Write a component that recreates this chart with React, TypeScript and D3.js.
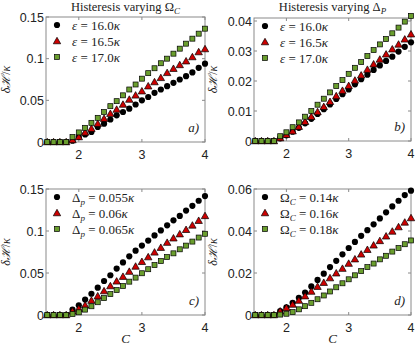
import React from "react";
import * as d3 from "d3";

const cValues = [1.5,1.6,1.7,1.8,1.9,2.0,2.1,2.2,2.3,2.4,2.5,2.6,2.7,2.8,2.9,3.0,3.1,3.2,3.3,3.4,3.5,3.6,3.7,3.8,3.9,4.0];

const aSeries1 = [0,0,0,0,0.0016,0.006,0.009,0.012,0.018,0.022,0.027,0.032,0.036,0.040,0.045,0.050,0.054,0.059,0.063,0.067,0.071,0.075,0.079,0.0835,0.089,0.094];
const aSeries2 = [0,0,0,0,0.0024,0.006,0.0115,0.016,0.022,0.028,0.034,0.039,0.045,0.051,0.056,0.061,0.067,0.072,0.077,0.083,0.088,0.0925,0.097,0.102,0.108,0.1116];
const aSeries3 = [0,0,0,0,0.006,0.0115,0.017,0.023,0.029,0.036,0.043,0.049,0.056,0.063,0.069,0.076,0.0826,0.0885,0.0945,0.100,0.106,0.112,0.118,0.124,0.130,0.136];

const bSeries1 = [0,0,0,0,0.0009,0.0019,0.0031,0.0044,0.0059,0.0074,0.009,0.0106,0.0122,0.014,0.0156,0.0172,0.0189,0.0206,0.0221,0.0237,0.0252,0.0267,0.0281,0.0298,0.0314,0.0329];
const bSeries2 = [0,0,0,0,0.001,0.0021,0.0033,0.0048,0.0064,0.0081,0.0097,0.0114,0.0131,0.015,0.0168,0.0184,0.0202,0.0219,0.0238,0.0256,0.0272,0.0289,0.0306,0.0322,0.0339,0.0356];
const bSeries3 = [0,0,0,0,0.0016,0.0029,0.0046,0.0062,0.0081,0.010,0.0121,0.0141,0.0162,0.0183,0.0203,0.0224,0.0244,0.0263,0.0283,0.0303,0.0322,0.034,0.0359,0.0378,0.0398,0.0417];

const cSeries1 = [0,0,0,0,0.0064,0.0116,0.0184,0.0253,0.0325,0.0405,0.0473,0.0553,0.0626,0.0698,0.0766,0.0826,0.0886,0.0947,0.1007,0.1067,0.1127,0.118,0.1243,0.130,0.136,0.1416];
const cSeries2 = [0,0,0,0,0.0044,0.0076,0.0116,0.0172,0.0225,0.0285,0.0345,0.0401,0.0457,0.0517,0.0578,0.0634,0.069,0.0746,0.0802,0.0862,0.0914,0.0963,0.1015,0.1067,0.1123,0.118];
const cSeries3 = [0,0,0,0,0.0012,0.0032,0.0064,0.0104,0.0152,0.0201,0.0249,0.0297,0.0345,0.0397,0.0445,0.0497,0.0545,0.0594,0.0642,0.069,0.0734,0.0782,0.0826,0.0874,0.0922,0.0967];

const dSeries1 = [0,0,0,0,0.0019,0.0037,0.0058,0.0082,0.0107,0.0136,0.0167,0.0197,0.0228,0.0258,0.0289,0.0319,0.0348,0.0377,0.0404,0.0432,0.046,0.0489,0.0517,0.0544,0.0571,0.0592];
const dSeries2 = [0,0,0,0,0.0018,0.0034,0.005,0.0069,0.009,0.0112,0.0135,0.0154,0.0176,0.0199,0.0221,0.0245,0.0266,0.0289,0.0311,0.0332,0.0353,0.0375,0.0398,0.0419,0.0441,0.0462];
const dSeries3 = [0,0,0,0,0.0002,0.0006,0.0014,0.0027,0.0042,0.0058,0.0075,0.0093,0.0112,0.0132,0.0151,0.017,0.0189,0.0209,0.0228,0.0245,0.0265,0.0282,0.0302,0.0319,0.0337,0.0355];

const xTicks = [2, 3, 4];
const yTicksA = [0, 0.05, 0.1, 0.15];
const yTicksB = [0, 0.01, 0.02, 0.03, 0.04];
const yTicksC = [0, 0.05, 0.1, 0.15];
const yTicksD = [0, 0.02, 0.04, 0.06];

const titleLeft = ["Histeresis varying Ω", "C"];
const titleRight = ["Histeresis varying Δ", "P"];

const SERIF = "'Liberation Serif', 'DejaVu Serif', serif";
const SANS = "'Liberation Sans', Arial, sans-serif";
const RED = "#cc0000";
const GREEN = "#6a9e2e";

type Leg = { sym: string; sub?: string; val: string };

const legendAB: Leg[] = [
  { sym: "ε", val: "16.0" },
  { sym: "ε", val: "16.5" },
  { sym: "ε", val: "17.0" },
];
const legendC: Leg[] = [
  { sym: "Δ", sub: "p", val: "0.055" },
  { sym: "Δ", sub: "p", val: "0.06" },
  { sym: "Δ", sub: "p", val: "0.065" },
];
const legendD: Leg[] = [
  { sym: "Ω", sub: "C", val: "0.14" },
  { sym: "Ω", sub: "C", val: "0.16" },
  { sym: "Ω", sub: "C", val: "0.18" },
];

function Marker({ kind, x, y }: { kind: number; x: number; y: number }) {
  if (kind === 0) return <circle cx={x} cy={y} r={3.1} fill="#000" />;
  if (kind === 1) {
    const s = 3.7;
    return (
      <path
        d={`M${x},${y - s}L${x + s},${y + s * 0.75}L${x - s},${y + s * 0.75}Z`}
        fill={RED}
        stroke="#000"
        strokeWidth={0.7}
      />
    );
  }
  return <rect x={x - 2.5} y={y - 2.5} width={5} height={5} fill={GREEN} stroke="#000" strokeWidth={0.7} />;
}

function Panel({
  left, right, top, bottom, yMax, yTicks, series, legend, letter, yLabelX,
}: {
  left: number; right: number; top: number; bottom: number; yMax: number; yTicks: number[];
  series: number[][]; legend: Leg[]; letter: string; yLabelX: number;
}) {
  const x = d3.scaleLinear().domain([1.48, 4]).range([left, right]);
  const y = d3.scaleLinear().domain([0, yMax]).range([bottom, top]);
  const fmt = (v: number) => (v === 0 ? "0" : String(+v.toFixed(3)));
  return (
    <g>
      <rect x={left} y={top} width={right - left} height={bottom - top} fill="#fff" stroke="#8a8a8a" strokeWidth={1} />
      {xTicks.map((t) => (
        <g key={"x" + t}>
          <line x1={x(t)} x2={x(t)} y1={bottom} y2={bottom - 3} stroke="#8a8a8a" />
          <line x1={x(t)} x2={x(t)} y1={top} y2={top + 3} stroke="#8a8a8a" />
          <text x={x(t)} y={bottom + 17} textAnchor="middle" fontFamily={SANS} fontSize={12.5} fill="#222">{t}</text>
        </g>
      ))}
      {yTicks.map((t) => (
        <g key={"y" + t}>
          <line x1={left} x2={left + 3} y1={y(t)} y2={y(t)} stroke="#8a8a8a" />
          <line x1={right} x2={right - 3} y1={y(t)} y2={y(t)} stroke="#8a8a8a" />
          <text x={left - 2} y={y(t) + 4.5} textAnchor="end" fontFamily={SANS} fontSize={12.5} fill="#222">{fmt(t)}</text>
        </g>
      ))}
      {series.map((s, k) => (
        <g key={"s" + k}>
          {s.map((v, i) => (
            <Marker key={i} kind={k} x={x(cValues[i])} y={y(v)} />
          ))}
        </g>
      ))}
      {legend.map((l, k) => {
        const ly = top + 8 + k * 16;
        return (
          <g key={"l" + k}>
            <Marker kind={k} x={left + 11} y={ly} />
            <text x={left + 26} y={ly + 4.5} fontFamily={SERIF} fontSize={13} fill="#222">
              <tspan fontStyle={l.sub ? "normal" : "italic"}>{l.sym}</tspan>
              {l.sub ? <tspan fontStyle="italic" fontSize={9} dy={3}>{l.sub}</tspan> : null}
              <tspan dy={l.sub ? -3 : 0}>{" = " + l.val}</tspan>
              <tspan fontStyle="italic">κ</tspan>
            </text>
          </g>
        );
      })}
      <text x={right - 6} y={bottom - 10} textAnchor="end" fontFamily={SERIF} fontStyle="italic" fontSize={13} fill="#222">{letter}</text>
      <text
        transform={`translate(${yLabelX},${(top + bottom) / 2}) rotate(-90)`}
        textAnchor="middle"
        fontFamily={SERIF}
        fontSize={12}
        fill="#222"
      >
        <tspan fontStyle="italic">δℋ</tspan>
        <tspan>/</tspan>
        <tspan fontStyle="italic">κ</tspan>
      </text>
    </g>
  );
}

export default function App() {
  return (
    <svg width={416} height={348} style={{ position: "absolute", left: 0, top: 0, background: "#fff" }}>
      <rect width={416} height={348} fill="#fff" />
      <text x={125.5} y={11} textAnchor="middle" fontFamily={SERIF} fontSize={12.5} fill="#222">
        {titleLeft[0]}
        <tspan fontStyle="italic" fontSize={9} dy={3}>{titleLeft[1]}</tspan>
      </text>
      <text x={332.5} y={11} textAnchor="middle" fontFamily={SERIF} fontSize={12.5} fill="#222">
        {titleRight[0]}
        <tspan fontStyle="italic" fontSize={9} dy={3}>{titleRight[1]}</tspan>
      </text>
      <Panel left={46} right={205} top={17} bottom={142} yMax={0.15} yTicks={yTicksA}
        series={[aSeries1, aSeries2, aSeries3]} legend={legendAB} letter="a)" yLabelX={10} />
      <Panel left={254} right={411} top={18} bottom={141} yMax={0.041} yTicks={yTicksB}
        series={[bSeries1, bSeries2, bSeries3]} legend={legendAB} letter="b)" yLabelX={217} />
      <Panel left={46} right={205} top={189} bottom={315} yMax={0.15} yTicks={yTicksC}
        series={[cSeries1, cSeries2, cSeries3]} legend={legendC} letter="c)" yLabelX={10} />
      <Panel left={254} right={411} top={189} bottom={315} yMax={0.06} yTicks={yTicksD}
        series={[dSeries1, dSeries2, dSeries3]} legend={legendD} letter="d)" yLabelX={217} />
      <text x={125.5} y={343} textAnchor="middle" fontFamily={SERIF} fontStyle="italic" fontSize={13} fill="#222">C</text>
      <text x={332.5} y={343} textAnchor="middle" fontFamily={SERIF} fontStyle="italic" fontSize={13} fill="#222">C</text>
    </svg>
  );
}
